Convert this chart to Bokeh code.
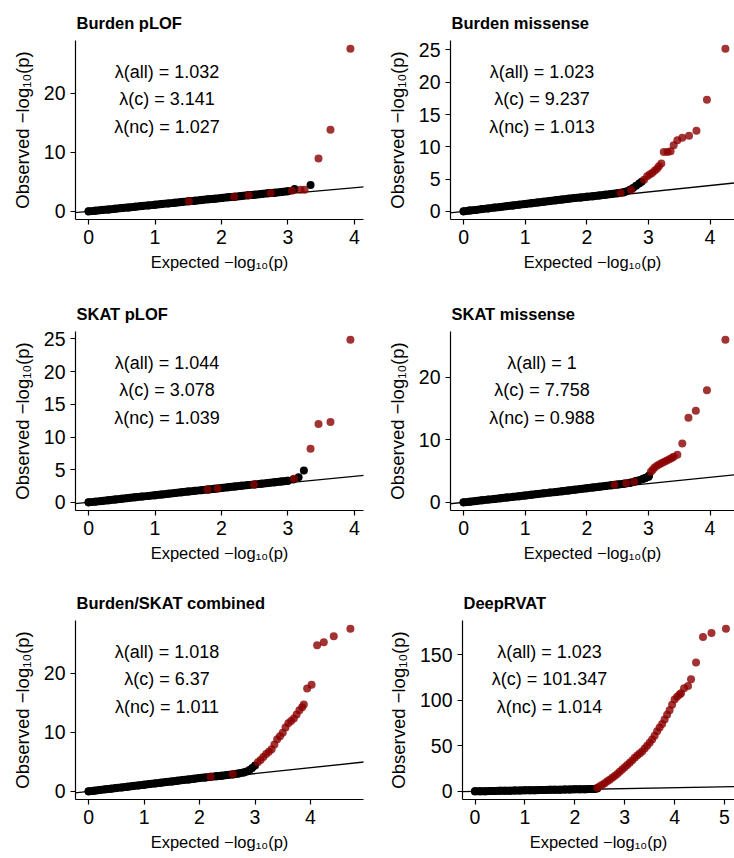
from bokeh.plotting import figure
from bokeh.layouts import column, row
from bokeh.models import Range1d, Slope, Label
from bokeh.embed import file_html
from bokeh.resources import INLINE

FONT = "Liberation Sans"
BLACK = "#000000"
RED = "#8B0000"

# shared expected -log10(p) grid for the dense body of each QQ curve
EXP_GRID = [0.0, 0.1, 0.2, 0.3, 0.4, 0.5, 0.6, 0.7, 0.8, 0.9, 1.0, 1.1, 1.2, 1.3, 1.4,
            1.5, 1.6, 1.7, 1.8, 1.9, 2.0, 2.1, 2.2, 2.3, 2.4, 2.5, 2.6, 2.7, 2.8, 2.9, 3.0]

TITLES = ["Burden pLOF", "Burden missense", "SKAT pLOF", "SKAT missense",
          "Burden/SKAT combined", "DeepRVAT"]
LAMBDA_ALL = ["1.032", "1.023", "1.044", "1", "1.018", "1.023"]
LAMBDA_C = ["3.141", "9.237", "3.078", "7.758", "6.37", "101.347"]
LAMBDA_NC = ["1.027", "1.013", "1.039", "0.988", "1.011", "1.014"]

X_TICKS = [0, 1, 2, 3, 4]
X_TICKS_6 = [0, 1, 2, 3, 4, 5]
Y_TICKS_1 = [0, 10, 20]
Y_TICKS_2 = [0, 5, 10, 15, 20, 25]
Y_TICKS_3 = [0, 5, 10, 15, 20, 25]
Y_TICKS_4 = [0, 10, 20]
Y_TICKS_5 = [0, 10, 20]
Y_TICKS_6 = [0, 50, 100, 150]

# Panel 1: Burden pLOF
P1_BODY_OBS = [0.00, 0.11, 0.22, 0.33, 0.45, 0.56, 0.67, 0.78, 0.90, 1.01, 1.12, 1.24, 1.35, 1.46,
               1.58, 1.69, 1.80, 1.92, 2.03, 2.14, 2.26, 2.37, 2.48, 2.60, 2.71, 2.82, 2.94, 3.05,
               3.16, 3.28, 3.40]
P1_BLACK_X = [3.10, 3.34]
P1_BLACK_Y = [3.80, 4.47]
P1_RED_X = [1.51, 2.19, 2.41, 2.74, 3.06, 3.19, 3.25, 3.46, 3.64, 3.94]
P1_RED_Y = [1.70, 2.47, 2.72, 3.10, 3.50, 3.67, 3.67, 8.93, 13.8, 27.5]

# Panel 2: Burden missense
P2_BODY_OBS = [0.00, 0.12, 0.23, 0.35, 0.46, 0.58, 0.69, 0.81, 0.92, 1.04, 1.15, 1.27, 1.38, 1.50,
               1.61, 1.73, 1.84, 1.96, 2.07, 2.16, 2.25, 2.35, 2.45, 2.56, 2.68, 2.80, 2.95]
P2_BLACK_X = [2.65, 2.70, 2.75, 2.80, 2.85, 2.89]
P2_BLACK_Y = [3.10, 3.35, 3.60, 3.95, 4.30, 4.60]
P2_RED_X = [2.55, 2.72, 2.93, 2.98, 3.02, 3.06, 3.10, 3.14, 3.17, 3.21, 3.25, 3.31, 3.36, 3.41,
            3.47, 3.55, 3.66, 3.78, 3.95, 4.25]
P2_RED_Y = [2.85, 3.30, 4.90, 5.43, 5.70, 5.95, 6.30, 6.60, 7.00, 7.40, 9.20, 9.20, 9.30, 10.25,
            11.0, 11.4, 11.7, 12.5, 17.3, 25.2]

# Panel 3: SKAT pLOF
P3_BODY_OBS = [0.00, 0.11, 0.22, 0.33, 0.44, 0.55, 0.66, 0.77, 0.88, 0.99, 1.10, 1.21, 1.32, 1.43,
               1.54, 1.65, 1.76, 1.87, 1.98, 2.09, 2.20, 2.31, 2.42, 2.53, 2.64, 2.75, 2.86, 2.97,
               3.08, 3.19, 3.32]
P3_BLACK_X = [3.08, 3.16, 3.24]
P3_BLACK_Y = [3.50, 3.85, 4.88]
P3_RED_X = [1.79, 1.94, 2.49, 3.09, 3.34, 3.46, 3.64, 3.94]
P3_RED_Y = [1.98, 2.14, 2.75, 3.60, 8.20, 12.0, 12.3, 24.9]

# Panel 4: SKAT missense
P4_BODY_OBS = [0.00, 0.11, 0.22, 0.33, 0.44, 0.55, 0.66, 0.77, 0.88, 0.99, 1.10, 1.21, 1.33, 1.44,
               1.56, 1.67, 1.79, 1.90, 2.02, 2.13, 2.25, 2.36, 2.48, 2.60, 2.72, 2.85, 2.98, 3.12,
               3.40, 3.70, 4.10]
P4_BLACK_X = [2.95, 3.01]
P4_BLACK_Y = [3.90, 4.28]
P4_RED_X = [2.45, 2.64, 2.77, 3.04, 3.07, 3.10, 3.14, 3.18, 3.22, 3.26, 3.30, 3.34, 3.38, 3.41,
            3.47, 3.55, 3.65, 3.77, 3.95, 4.25]
P4_RED_Y = [2.80, 3.05, 3.30, 4.90, 5.20, 5.56, 5.85, 6.10, 6.30, 6.50, 6.70, 6.90, 7.10, 7.30,
            7.60, 9.40, 13.5, 14.65, 17.9, 26.0]

# Panel 5: Burden/SKAT combined
P5_BODY_OBS = [0.00, 0.11, 0.22, 0.34, 0.45, 0.56, 0.67, 0.78, 0.90, 1.01, 1.12, 1.23, 1.35, 1.46,
               1.57, 1.68, 1.80, 1.91, 2.02, 2.13, 2.25, 2.35, 2.45, 2.55, 2.65, 2.75, 2.87, 3.02,
               3.20]
P5_BLACK_X = [2.85, 2.90, 2.95, 3.00]
P5_BLACK_Y = [3.35, 3.60, 3.95, 4.35]
P5_RED_X = [2.20, 2.60, 3.05, 3.10, 3.15, 3.20, 3.25, 3.30, 3.35, 3.40, 3.45, 3.50, 3.55, 3.60,
            3.65, 3.70, 3.75, 3.80, 3.85, 3.88, 3.94, 4.02, 4.12, 4.24, 4.42, 4.72]
P5_RED_Y = [2.45, 2.95, 4.90, 5.30, 5.80, 6.30, 6.70, 7.10, 7.90, 8.80, 9.30, 9.90, 10.8, 11.5,
            11.9, 12.3, 13.0, 13.7, 14.2, 14.7, 17.4, 18.0, 24.7, 25.2, 26.2, 27.5]

# Panel 6: DeepRVAT
P6_BODY_OBS = [0.00, 0.11, 0.22, 0.33, 0.44, 0.55, 0.66, 0.77, 0.88, 0.99, 1.10, 1.21, 1.32, 1.43,
               1.54, 1.65, 1.76, 1.87, 1.98, 2.09, 2.20, 2.31, 2.42, 2.55, 2.70]
P6_BLACK_X = [2.45]
P6_BLACK_Y = [3.20]
P6_RED_X = [2.45, 2.50, 2.55, 2.60, 2.65, 2.70, 2.75, 2.80, 2.85, 2.90, 2.95, 3.00, 3.05, 3.10,
            3.15, 3.20, 3.25, 3.30, 3.35, 3.40, 3.45, 3.50, 3.55, 3.60, 3.65, 3.70, 3.75, 3.80,
            3.85, 3.90, 3.95, 4.00, 4.05, 4.10, 4.13, 4.19, 4.27, 4.33, 4.43, 4.57, 4.74, 5.03]
P6_RED_Y = [4.0, 5.5, 7.3, 9.0, 11.0, 12.8, 15.0, 17.0, 19.0, 21.5, 24.0, 26.5, 29.0, 31.5,
            34.0, 37.0, 39.5, 41.5, 43.8, 47.0, 50.0, 53.5, 57.0, 61.0, 66.0, 70.0, 74.0, 79.0,
            84.0, 89.0, 95.0, 101.0, 104.0, 106.5, 107.8, 113.3, 115.8, 123.2, 141.5, 169.5,
            173.9, 178.7]

FRAME_H = 179
DOT = 8


def make_panel(i, body_obs, bx, by, rx, ry, yticks, xticks, left_border, full_w, visible_w,
               right_border, top_border, bottom_border, text_px):
    body_x = EXP_GRID[:len(body_obs)]
    xs = body_x + bx + rx
    ys = list(body_obs) + by + ry
    xmax, ymax = max(xs), max(ys)
    x0, x1_full = -0.05 * xmax, 1.05 * xmax
    y0, y1 = -0.05 * ymax, 1.05 * ymax
    ppu_x = full_w / (x1_full - x0)
    x1 = x0 + visible_w / ppu_x
    p = figure(frame_width=visible_w, frame_height=FRAME_H,
               min_border_left=left_border, min_border_right=right_border,
               min_border_top=top_border, min_border_bottom=bottom_border,
               x_range=Range1d(x0, x1), y_range=Range1d(y0, y1),
               output_backend="svg", toolbar_location=None, title=TITLES[i])
    p.outline_line_color = None
    p.xgrid.visible = False
    p.ygrid.visible = False
    p.background_fill_color = "white"
    p.border_fill_color = "white"

    p.title.text_font = FONT
    p.title.text_font_style = "bold"
    p.title.text_font_size = "16.5px"
    p.title.text_color = "black"
    p.title.standoff = 17
    p.title.offset = 1

    for ax in (p.xaxis[0], p.yaxis[0]):
        ax.axis_line_color = "black"
        ax.axis_line_width = 1.2
        ax.major_tick_line_color = "black"
        ax.major_tick_line_width = 1.2
        ax.major_tick_in = 0
        ax.major_tick_out = 5
        ax.minor_tick_line_color = None
        ax.major_label_text_font = FONT
        ax.major_label_text_font_size = "19.5px"
        ax.major_label_text_color = "black"
        ax.axis_label_text_font = FONT
        ax.axis_label_text_font_style = "normal"
        ax.axis_label_text_color = "black"
    p.xaxis.axis_label_text_font_size = "16.5px"
    p.yaxis.axis_label_text_font_size = "18.5px"
    p.xaxis.ticker = xticks
    p.yaxis.ticker = yticks
    p.xaxis.major_label_standoff = 5
    p.yaxis.major_label_standoff = 5
    p.xaxis.axis_label_standoff = 6
    p.yaxis.axis_label_standoff = 8
    p.xaxis.axis_label = "Expected \u2212log\u2081\u2080(p)"
    p.yaxis.axis_label = "Observed \u2212log\u2081\u2080(p)"

    slope = Slope(gradient=1, y_intercept=0, line_color="black", line_width=1.3, level="underlay")
    p.add_layout(slope)

    # the dense body of the black QQ cloud: a thick band through the points plus the points
    p.line(body_x, body_obs, line_color=BLACK, line_width=DOT, line_cap="round",
           line_join="round")
    p.scatter(body_x + bx, list(body_obs) + by, size=DOT, fill_color=BLACK, line_color=None,
              fill_alpha=1.0)
    p.scatter(rx, ry, size=DOT, fill_color=RED, line_color=None, fill_alpha=0.8)

    ppu_y = FRAME_H / (y1 - y0)
    texts = ["\u03bb(all) = " + LAMBDA_ALL[i], "\u03bb(c) = " + LAMBDA_C[i],
             "\u03bb(nc) = " + LAMBDA_NC[i]]
    for t, py in zip(texts, [148, 121, 93]):
        p.add_layout(Label(x=x0 + text_px / ppu_x, y=y0 + py / ppu_y, text=t,
                           text_align="center", text_baseline="middle",
                           text_font=FONT, text_font_size="18px", text_color="black"))
    return p


p1 = make_panel(0, P1_BODY_OBS, P1_BLACK_X, P1_BLACK_Y, P1_RED_X, P1_RED_Y, Y_TICKS_1, X_TICKS,
                75, 288, 288, 4, 40, 71, 91.5)
p2 = make_panel(1, P2_BODY_OBS, P2_BLACK_X, P2_BLACK_Y, P2_RED_X, P2_RED_Y, Y_TICKS_2, X_TICKS,
                83, 288, 284, 0, 40, 71, 91.5)
p3 = make_panel(2, P3_BODY_OBS, P3_BLACK_X, P3_BLACK_Y, P3_RED_X, P3_RED_Y, Y_TICKS_3, X_TICKS,
                75, 288, 288, 4, 41, 70, 91.5)
p4 = make_panel(3, P4_BODY_OBS, P4_BLACK_X, P4_BLACK_Y, P4_RED_X, P4_RED_Y, Y_TICKS_4, X_TICKS,
                83, 288, 284, 0, 41, 70, 91.5)
p5 = make_panel(4, P5_BODY_OBS, P5_BLACK_X, P5_BLACK_Y, P5_RED_X, P5_RED_Y, Y_TICKS_5, X_TICKS,
                75, 288, 288, 4, 40, 59, 91.5)
p6 = make_panel(5, P6_BODY_OBS, P6_BLACK_X, P6_BLACK_Y, P6_RED_X, P6_RED_Y, Y_TICKS_6, X_TICKS_6,
                95, 276, 272, 0, 40, 59, 87)

layout = column(row(p1, p2), row(p3, p4), row(p5, p6))
open("out.html", "w").write(file_html(layout, INLINE))
